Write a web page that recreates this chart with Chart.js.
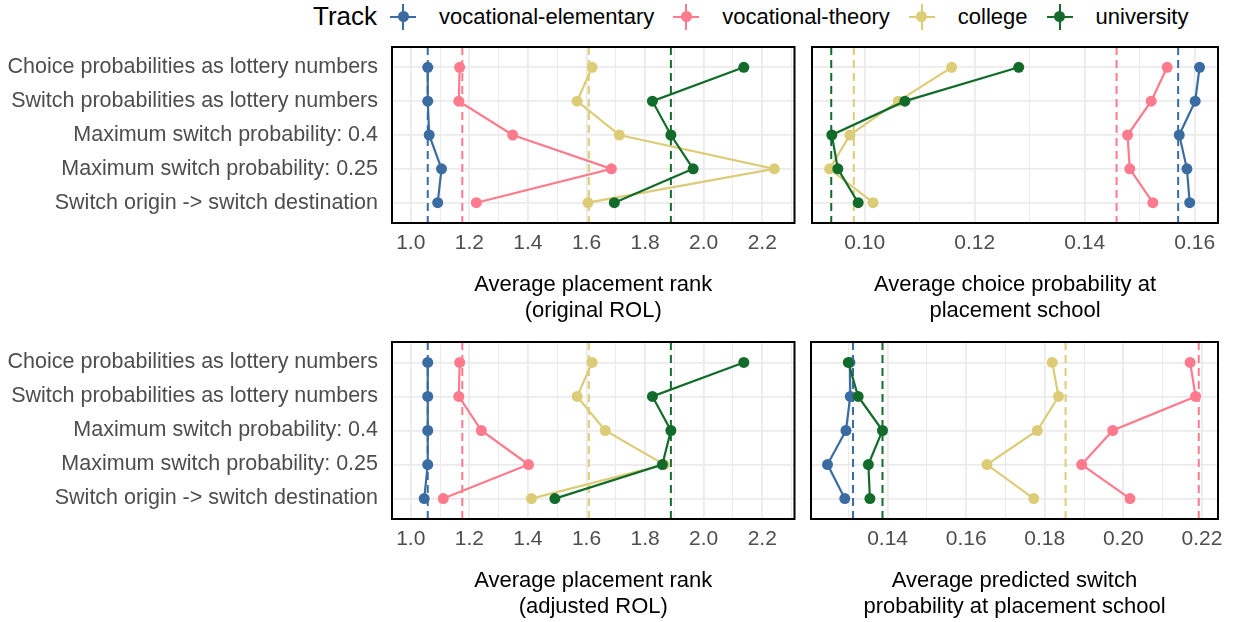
<!DOCTYPE html>
<html>
<head>
<meta charset="utf-8">
<script src="https://cdn.jsdelivr.net/npm/chart.js@4.4.1/dist/chart.umd.min.js"></script>
<style>
body { margin: 0; background: #fff; width: 1234px; height: 622px; overflow: hidden; position: relative;
       font-family: "Liberation Sans", Arial, sans-serif; }
canvas { position: absolute; }
#legend { position: absolute; left: 313px; top: 0; height: 33px; display: flex; align-items: center; white-space: nowrap; }
#legend .title { font-size: 26px; color: #000; margin-right: 11px; }
#legend .key { position: relative; width: 30px; height: 28px; margin-right: 21px; }
#legend .key i { position: absolute; display: block; }
#legend .key .h { left: 2px; right: 2px; top: 13px; height: 2px; }
#legend .key .v { left: 14px; width: 2px; top: 1px; bottom: 1px; }
#legend .key .d { left: 9.5px; top: 8.5px; width: 11px; height: 11px; border-radius: 50%; }
#legend .lab { font-size: 22px; color: #000; margin-right: 17px; }
</style>
</head>
<body>
<div id="legend"></div>
<canvas id="c1" width="800" height="289" style="left:0;top:37px"></canvas>
<canvas id="c2" width="434" height="289" style="left:800px;top:37px"></canvas>
<canvas id="c3" width="800" height="290" style="left:0;top:332px"></canvas>
<canvas id="c4" width="434" height="290" style="left:800px;top:332px"></canvas>
<script>
const categories = [
  "Choice probabilities as lottery numbers",
  "Switch probabilities as lottery numbers",
  "Maximum switch probability: 0.4",
  "Maximum switch probability: 0.25",
  "Switch origin -> switch destination"
];
const tracks = ["vocational-elementary", "vocational-theory", "college", "university"];
const trackColors = ["#3A6CA1", "#FF7A8C", "#DDCC77", "#136B2B"];

// average placement rank (original ROL)
const rankOrigElem    = [1.058, 1.058, 1.063, 1.105, 1.092];
const rankOrigTheory  = [1.167, 1.164, 1.348, 1.685, 1.224];
const rankOrigCollege = [1.619, 1.568, 1.712, 2.241, 1.605];
const rankOrigUniv    = [2.137, 1.825, 1.888, 1.964, 1.695];
const rankOrigBase    = [1.058, 1.176, 1.608, 1.888];

// average choice probability at placement school
const choiceElem    = [0.1609, 0.1601, 0.1572, 0.1586, 0.1591];
const choiceTheory  = [0.1550, 0.1521, 0.1478, 0.1482, 0.1524];
const choiceCollege = [0.1158, 0.1061, 0.0973, 0.0936, 0.1015];
const choiceUniv    = [0.1280, 0.1073, 0.0940, 0.0951, 0.0988];
const choiceBase    = [0.1570, 0.1458, 0.0980, 0.0939];

// average placement rank (adjusted ROL)
const rankAdjElem    = [1.058, 1.058, 1.058, 1.058, 1.046];
const rankAdjTheory  = [1.167, 1.164, 1.241, 1.402, 1.111];
const rankAdjCollege = [1.619, 1.568, 1.664, 1.865, 1.412];
const rankAdjUniv    = [2.137, 1.825, 1.888, 1.859, 1.492];
const rankAdjBase    = [1.058, 1.176, 1.608, 1.888];

// average predicted switch probability at placement school
const switchElem    = [0.1304, 0.1305, 0.1294, 0.1247, 0.1291];
const switchTheory  = [0.2170, 0.2184, 0.1973, 0.1894, 0.2017];
const switchCollege = [0.1819, 0.1835, 0.1781, 0.1653, 0.1772];
const switchUniv    = [0.1300, 0.1325, 0.1387, 0.1351, 0.1355];
const switchBase    = [0.1312, 0.2192, 0.1853, 0.1387];

// tick labels
const rankTicks   = [1.0, 1.2, 1.4, 1.6, 1.8, 2.0, 2.2];
const choiceTicks = [0.10, 0.12, 0.14, 0.16];
const switchTicks = [0.14, 0.16, 0.18, 0.20, 0.22];

const Y_MIN = 0.4, Y_MAX = 5.6;
const FONT = '"Liberation Sans", Arial, sans-serif';
const GRID = "#EBEBEB";

// legend
const legendRef = document.querySelector("#legend");
legendRef.innerHTML = '<span class="title">Track</span>' + tracks.map((t, i) =>
  `<span class="key"><i class="h" style="background:${trackColors[i]}"></i><i class="v" style="background:${trackColors[i]}"></i><i class="d" style="background:${trackColors[i]}"></i></span><span class="lab">${t}</span>`
).join("");

const isMajor = (v, majors) => majors.some(m => Math.abs(m - v) < 1e-9);

const panelBorder = {
  id: "panelBorder",
  afterDraw(chart) {
    const { ctx, chartArea: a } = chart;
    ctx.save();
    ctx.strokeStyle = "#000";
    ctx.lineWidth = 2;
    ctx.strokeRect(a.left, a.top, a.right - a.left, a.bottom - a.top);
    ctx.restore();
  }
};

function makePanel(id, p) {
  const series = p.series.map((vals, i) => ({
    data: vals.map((v, j) => ({ x: v, y: j + 1 })),
    showLine: true,
    borderColor: trackColors[i],
    backgroundColor: trackColors[i],
    borderWidth: 2.2,
    pointRadius: 5.5,
    pointBorderWidth: 0,
    order: 3 - i
  }));
  const baselines = p.base.map((b, i) => ({
    data: [{ x: b, y: Y_MIN }, { x: b, y: Y_MAX }],
    showLine: true,
    borderColor: trackColors[i],
    borderWidth: 2,
    borderDash: [8, 5],
    pointRadius: 0,
    order: 10 + i
  }));

  new Chart(document.getElementById(id), {
    type: "scatter",
    data: { datasets: [...series, ...baselines] },
    options: {
      responsive: false,
      animation: false,
      devicePixelRatio: 1,
      events: [],
      layout: { padding: { left: 0, right: p.padRight, top: 10, bottom: 2 } },
      plugins: { legend: { display: false }, tooltip: { enabled: false } },
      scales: {
        x: {
          type: "linear",
          min: p.xMin,
          max: p.xMax,
          afterBuildTicks: s => {
            const half = (p.majors[1] - p.majors[0]) / 2;
            const out = [];
            for (let k = -4; k <= p.majors.length * 2 + 4; k++) {
              const v = p.majors[0] + k * half;
              if (v >= p.xMin && v <= p.xMax) out.push({ value: v });
            }
            s.ticks = out;
          },
          afterFit: s => { s.height = 101; s.paddingLeft = 0; s.paddingRight = 0; },
          ticks: {
            autoSkip: false, maxRotation: 0, minRotation: 0, padding: 8,
            color: "#4D4D4D", font: { family: FONT, size: 21 },
            callback: v => isMajor(v, p.majors) ? v.toFixed(p.dec) : ""
          },
          grid: {
            color: GRID, drawTicks: false,
            lineWidth: c => (c.tick && isMajor(c.tick.value, p.majors)) ? 1.8 : 1
          },
          border: { display: false },
          title: {
            display: true, text: p.title, color: "#000",
            font: { family: FONT, size: 22, lineHeight: 1.18 },
            padding: { top: 0, bottom: 0 }
          }
        },
        y: {
          type: "linear",
          min: Y_MIN,
          max: Y_MAX,
          reverse: true,
          afterBuildTicks: s => { s.ticks = categories.map((c, i) => ({ value: i + 1 })); },
          afterFit: s => { s.width = p.yWidth; s.paddingTop = 0; s.paddingBottom = 0; },
          ticks: {
            display: p.showY, autoSkip: false, padding: 14,
            color: "#4D4D4D", font: { family: FONT, size: 21.5 },
            callback: v => categories[Math.round(v) - 1]
          },
          grid: { color: GRID, lineWidth: 1.8, drawTicks: false },
          border: { display: false }
        }
      }
    },
    plugins: [panelBorder]
  });
}

makePanel("c1", {
  series: [rankOrigElem, rankOrigTheory, rankOrigCollege, rankOrigUniv], base: rankOrigBase,
  xMin: 0.936, xMax: 2.31, majors: rankTicks, dec: 1,
  title: ["Average placement rank", "(original ROL)"], showY: true, yWidth: 392, padRight: 3
});
makePanel("c2", {
  series: [choiceElem, choiceTheory, choiceCollege, choiceUniv], base: choiceBase,
  xMin: 0.0904, xMax: 0.16425, majors: choiceTicks, dec: 2,
  title: ["Average choice probability at", "placement school"], showY: false, yWidth: 12, padRight: 16
});
makePanel("c3", {
  series: [rankAdjElem, rankAdjTheory, rankAdjCollege, rankAdjUniv], base: rankAdjBase,
  xMin: 0.936, xMax: 2.31, majors: rankTicks, dec: 1,
  title: ["Average placement rank", "(adjusted ROL)"], showY: true, yWidth: 392, padRight: 3
});
makePanel("c4", {
  series: [switchElem, switchTheory, switchCollege, switchUniv], base: switchBase,
  xMin: 0.1205, xMax: 0.2241, majors: switchTicks, dec: 2,
  title: ["Average predicted switch", "probability at placement school"], showY: false, yWidth: 11, padRight: 16
});
</script>
</body>
</html>
